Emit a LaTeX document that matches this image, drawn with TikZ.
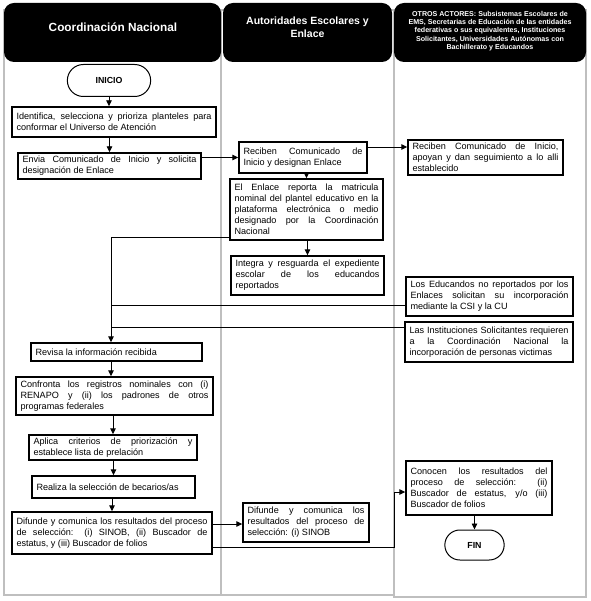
\documentclass[tikz,border=0pt]{standalone}
\usepackage{fontspec}
\setmainfont{Liberation Sans}
\usepackage{tikz}
\usetikzlibrary{arrows.meta, shapes.misc}
\hyphenpenalty=10000
\exhyphenpenalty=10000
\tolerance=9999

\begin{document}
\begin{tikzpicture}[x=1pt, y=-1pt,
    proceso/.style={draw, line width=1.4pt, inner xsep=4.5pt, inner ysep=2pt, align=justify, font=\fontsize{9.1}{11}\selectfont},
    terminal/.style={draw, rounded rectangle, line width=1pt, font=\bfseries\fontsize{8.8}{10}\selectfont},
    flecha/.style={line width=0.9pt, -{Triangle[width=5.5pt,length=6pt]}},
    linea/.style={line width=0.9pt},
    carril/.style={draw=black!25, line width=1.6pt},
    encabezado/.style={fill=black, rounded corners=10pt}]
    \useasboundingbox (0,0) rectangle (590,601);

    % carriles
    \draw[carril] (4,10) rectangle (221,595);
    \draw[carril] (221,10) rectangle (394,595);
    \draw[carril] (394,10) rectangle (586,597);
    \coordinate (div2) at (394,0);

    \fill[encabezado] (4,3) rectangle (221,62);
    \fill[encabezado] (223,3) rectangle (392,62);
    \fill[encabezado] (394,3) rectangle (586,62);
    \node[text=white, font=\bfseries\fontsize{11.8}{14}\selectfont] (tcoord) at (113,27.5) {Coordinación Nacional};
    \node[text=white, align=center, font=\bfseries\fontsize{10.5}{13.3}\selectfont] (tautor) at (307.5,27.5) {Autoridades Escolares y\\Enlace};
    \node[text=white, align=center, font=\bfseries\fontsize{7.1}{8.4}\selectfont] (totros) at (490,31) {OTROS ACTORES: Subsistemas Escolares de\\EMS, Secretarias de Educación de las entidades\\federativas o sus equivalentes, Instituciones\\Solicitantes, Universidades Autónomas con\\Bachillerato y Educandos};

    % Coordinacion Nacional
    \node[terminal, minimum width=90pt, minimum height=32pt] (inicio) at (109,80.5) {INICIO};
    \node[proceso, text width=195pt, minimum height=30pt] (identifica) at (114,122) {Identifica, selecciona y prioriza planteles para\linebreak conformar el Universo de Atención};
    \node[proceso, text width=174pt, minimum height=26pt] (envia) at (109.5,166) {Envia Comunicado de Inicio y solicita\linebreak designación de Enlace};
    \node[proceso, text width=162pt, minimum height=18pt] (revisa) at (116.5,352) {Revisa la información recibida};
    \node[proceso, text width=188pt, minimum height=38pt] (confronta) at (114.5,396) {Confronta los registros nominales con (i)\linebreak RENAPO y (ii) los padrones de otros\linebreak programas federales};
    \node[proceso, text width=159pt, minimum height=25pt] (aplica) at (113,447.5) {Aplica criterios de priorización y\linebreak establece lista de prelación};
    \node[proceso, text width=154pt, minimum height=22pt] (realiza) at (113.5,487) {Realiza la selección de becarios/as};
    \node[proceso, text width=191pt, minimum height=42pt] (difunde) at (112,533) {Difunde y comunica los resultados del proceso\linebreak de selección: (i) SINOB, (ii) Buscador de\linebreak estatus, y (iii) Buscador de folios};

    % Autoridades Escolares y Enlace
    \node[proceso, text width=119pt, minimum height=31pt] (reciben) at (303,157.5) {Reciben Comunicado de\linebreak Inicio y designan Enlace};
    \node[proceso, text width=144pt, minimum height=61pt] (reporta) at (306.5,209.5) {El Enlace reporta la matricula\linebreak nominal del plantel educativo en la\linebreak plataforma electrónica o medio\linebreak designado por la Coordinación\linebreak Nacional};
    \node[proceso, text width=144pt, minimum height=39pt] (integra) at (307.5,275.5) {Integra y resguarda el expediente\linebreak escolar de los educandos\linebreak reportados};
    \node[proceso, text width=117pt, minimum height=39pt] (sinob) at (306,522.5) {Difunde y comunica los\linebreak resultados del proceso de\linebreak selección: (i) SINOB};

    % Otros actores
    \node[proceso, text width=146pt, minimum height=35pt] (apoyan) at (485.5,157.5) {Reciben Comunicado de Inicio,\linebreak apoyan y dan seguimiento a lo alli\linebreak establecido};
    \node[proceso, text width=158pt, minimum height=39pt] (educandos) at (489.5,296.5) {Los Educandos no reportados por los\linebreak Enlaces solicitan su incorporación\linebreak mediante la CSI y la CU};
    \node[proceso, text width=159pt, minimum height=40pt] (instituciones) at (489,342) {Las Instituciones Solicitantes requieren\linebreak a la Coordinación Nacional la\linebreak incorporación de personas victimas};
    \node[proceso, text width=137pt, minimum height=54pt] (conocen) at (479,488) {Conocen los resultados del\linebreak proceso de selección: (ii)\linebreak Buscador de estatus, y/o (iii)\linebreak Buscador de folios};
    \node[terminal, minimum width=66pt, minimum height=30pt] (fin) at (474.5,545) {FIN};

    % conectores
    \coordinate (eje) at ([xshift=-5.5pt]revisa.north);
    \coordinate (entrada) at ([yshift=-4pt]conocen.west);
    \draw[flecha] (inicio.south) -- (inicio.south |- identifica.north);
    \draw[flecha] (identifica.south -| envia.north) -- (envia.north);
    \draw[flecha] (envia.east |- reciben.west) -- (reciben.west);
    \draw[flecha] ([yshift=10.5pt]reciben.east) -- ([yshift=10.5pt]reciben.east -| apoyan.west);
    \draw[flecha] (reporta.north |- reciben.south) -- (reporta.north);
    \draw[flecha] (integra.north |- reporta.south) -- (integra.north);
    \draw[flecha] ([yshift=3pt]reporta.south west) -| (eje);
    \draw[linea] ([yshift=-8.5pt]educandos.west) -- ([yshift=-8.5pt]educandos.west -| eje);
    \draw[linea] ([yshift=15pt]instituciones.west) -- ([yshift=15pt]instituciones.west -| eje);
    \draw[flecha] (revisa.south -| eje) -- (confronta.north -| eje);
    \draw[flecha] (confronta.south -| aplica.north) -- (aplica.north);
    \draw[flecha] (aplica.south -| realiza.north) -- (realiza.north);
    \draw[flecha] (realiza.south -| difunde.north) -- (difunde.north);
    \draw[flecha] ([yshift=9pt]difunde.east) -- ([yshift=9pt]difunde.east -| sinob.west);
    \draw[flecha] ([yshift=-14pt]difunde.east) -| (div2 |- entrada) -- (entrada);
    \draw[flecha] (fin.north |- conocen.south) -- (fin.north);
\end{tikzpicture}
\end{document}
